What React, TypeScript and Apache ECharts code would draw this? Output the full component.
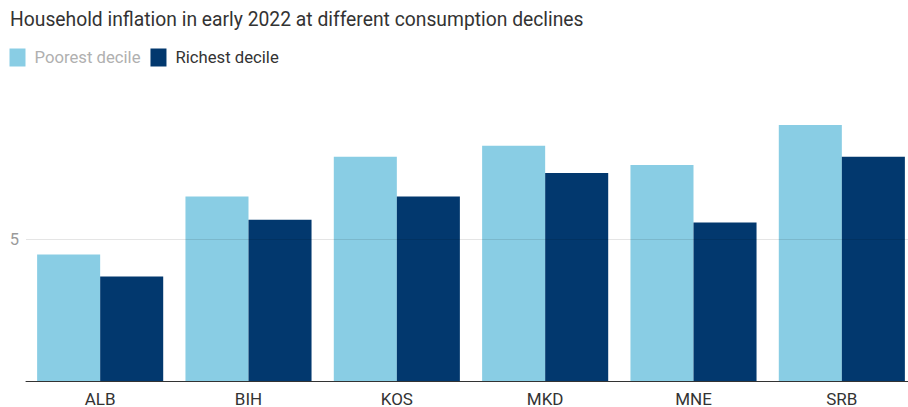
import React, { useEffect, useRef } from "react";
import * as echarts from "echarts";

const categories = ["ALB", "BIH", "KOS", "MKD", "MNE", "SRB"];
const poorest = [4.47, 6.52, 7.92, 8.31, 7.63, 9.05];
const richest = [3.69, 5.7, 6.52, 7.35, 5.6, 7.92];
const seriesNames = ["Poorest decile", "Richest decile"];
const titleText = "Household inflation in early 2022 at different consumption declines";

export default function App() {
  const ref = useRef<HTMLDivElement>(null);
  useEffect(() => {
    if (!ref.current) return;
    const chart = echarts.init(ref.current, undefined, { renderer: "svg" });
    const font = "Roboto, 'Noto Sans', sans-serif";
    chart.setOption({
      animation: false,
      backgroundColor: "#ffffff",
      textStyle: { fontFamily: font },
      title: {
        text: titleText,
        left: 10,
        top: 10,
        padding: 0,
        textStyle: { fontFamily: font, fontSize: 19.3, fontWeight: "normal", color: "#333333" },
      },
      legend: {
        left: 9.5,
        top: 48.5,
        padding: 0,
        icon: "rect",
        itemWidth: 16,
        itemHeight: 18,
        itemGap: 10,
        selectedMode: false,
        data: [
          { name: seriesNames[0], textStyle: { color: "#b0b0b0" } },
          { name: seriesNames[1], textStyle: { color: "#333333" } },
        ],
        textStyle: { fontFamily: font, fontSize: 16.7, padding: [0, 0, 0, 4] },
      },
      grid: { left: 26, top: 98, width: 890, height: 285.3, containLabel: false },
      xAxis: {
        type: "category",
        data: categories,
        z: 6,
        axisLine: { show: true, lineStyle: { color: "#333333", width: 1 } },
        axisTick: { show: false },
        axisLabel: { color: "#333333", fontSize: 17, margin: 9, fontFamily: font },
      },
      yAxis: {
        type: "value",
        min: 0,
        max: 10,
        interval: 5,
        z: 5,
        axisLine: { show: false },
        axisTick: { show: false },
        axisLabel: {
          color: "#9a9a9a",
          fontSize: 16.5,
          margin: 7,
          fontFamily: font,
          formatter: (v: number) => (v === 5 ? "5" : ""),
        },
        splitLine: {
          show: true,
          lineStyle: { color: ["transparent", "rgba(0,0,0,0.1)", "transparent"], width: 1 },
        },
      },
      series: [
        {
          name: seriesNames[0],
          type: "bar",
          data: poorest,
          itemStyle: { color: "#89cde4" },
          barGap: "0%",
          barCategoryGap: "15%",
        },
        {
          name: seriesNames[1],
          type: "bar",
          data: richest,
          itemStyle: { color: "#02386e" },
          barGap: "0%",
          barCategoryGap: "15%",
        },
      ],
    });
    return () => chart.dispose();
  }, []);
  return (
    <div style={{ position: "absolute", left: 0, top: 0, width: 908, height: 407, overflow: "hidden" }}>
      <div ref={ref} style={{ width: 930, height: 407 }} />
    </div>
  );
}
